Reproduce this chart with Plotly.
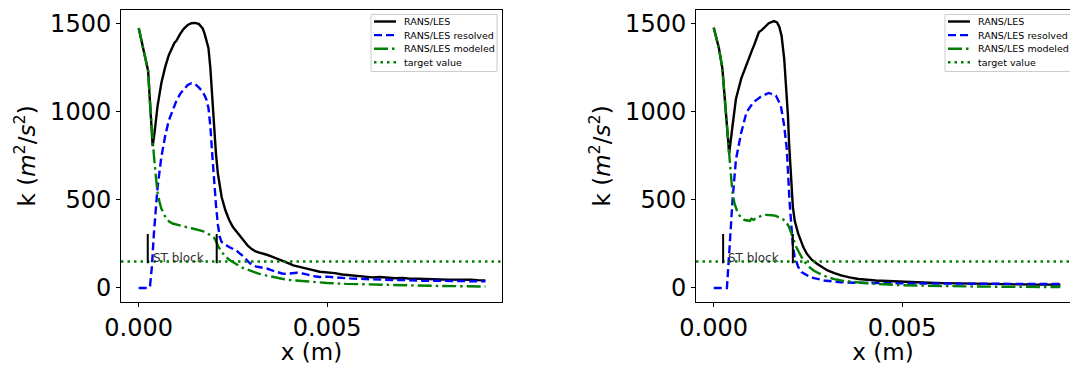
import plotly.graph_objects as go

# ---------------- data: left panel ----------------
L_x_total = [0, 0.0001, 0.0002, 0.00025, 0.0003, 0.00037, 0.00042, 0.0005, 0.0006, 0.0007,
             0.0008, 0.0009, 0.00095, 0.001, 0.0011, 0.0012, 0.0013, 0.0014, 0.0015, 0.0016,
             0.0017, 0.00175, 0.0018, 0.00185, 0.0019, 0.00195, 0.002, 0.00205, 0.0021, 0.00215,
             0.0022, 0.0023, 0.0024, 0.0025, 0.0026, 0.0027, 0.0028, 0.0029, 0.003, 0.0031,
             0.0032, 0.0033, 0.0034, 0.0035, 0.0036, 0.0037, 0.0038, 0.0039, 0.004, 0.0041,
             0.0042, 0.0043, 0.0044, 0.0046, 0.0048, 0.005, 0.0052, 0.0054, 0.0056, 0.0058,
             0.006, 0.0062, 0.0064, 0.0066, 0.0068, 0.007, 0.0072, 0.0074, 0.0076, 0.0078,
             0.008, 0.0082, 0.0084, 0.0086, 0.0088, 0.009, 0.0092]
L_k_total = [1473, 1380, 1290, 1230, 1050, 804, 880, 1030, 1160, 1250,
             1320, 1370, 1390, 1400, 1440, 1470, 1490, 1500, 1502, 1495,
             1470, 1440, 1400, 1360, 1250, 1080, 900, 760, 650, 570,
             515, 440, 385, 345, 318, 290, 262, 238, 220, 207,
             200, 195, 188, 180, 172, 165, 155, 148, 138, 128,
             122, 118, 112, 102, 92, 90, 84, 76, 71, 70,
             65, 60, 62, 58, 55, 57, 52, 53, 50, 51,
             48, 47, 48, 45, 46, 44, 43]

L_x_res = [0, 0.0001, 0.0002, 0.00025, 0.0003, 0.00035, 0.0004, 0.00045, 0.0005, 0.0006,
           0.0007, 0.0008, 0.0009, 0.001, 0.0011, 0.0012, 0.0013, 0.0014, 0.0015, 0.0016,
           0.0017, 0.00175, 0.0018, 0.00185, 0.0019, 0.00195, 0.002, 0.00205, 0.0021, 0.00215,
           0.0022, 0.00225, 0.0023, 0.0024, 0.0025, 0.0026, 0.0027, 0.0028, 0.0029, 0.003,
           0.0031, 0.0032, 0.0033, 0.0034, 0.0035, 0.0036, 0.0037, 0.0038, 0.0039, 0.004,
           0.0042, 0.0044, 0.0046, 0.0048, 0.005, 0.0052, 0.0054, 0.0056, 0.0058, 0.006,
           0.0062, 0.0064, 0.0066, 0.0068, 0.007, 0.0072, 0.0074, 0.0076, 0.0078, 0.008,
           0.0082, 0.0084, 0.0086, 0.0088, 0.009, 0.0092]
L_k_res = [0, 0, 0, 0, 10, 120, 300, 440, 570, 740,
           860, 950, 1010, 1060, 1100, 1125, 1150, 1160, 1155, 1135,
           1110, 1090, 1065, 1020, 920, 760, 600, 470, 360, 290,
           260, 250, 245, 232, 222, 210, 192, 175, 150, 130,
           122, 118, 115, 110, 102, 95, 88, 82, 80, 82,
           86, 80, 68, 62, 64, 60, 55, 54, 52, 50,
           47, 48, 45, 44, 45, 42, 42, 40, 41, 40,
           39, 40, 38, 38, 37, 37]

L_x_mod = [0, 0.0001, 0.0002, 0.00025, 0.0003, 0.00037, 0.0004, 0.00045, 0.0005, 0.00055,
           0.0006, 0.0007, 0.0008, 0.0009, 0.001, 0.0012, 0.0014, 0.0016, 0.0017, 0.0018,
           0.0019, 0.002, 0.00205, 0.0021, 0.0022, 0.0023, 0.0024, 0.0025, 0.0026, 0.0027,
           0.0028, 0.003, 0.0032, 0.0034, 0.0036, 0.0038, 0.004, 0.0045, 0.005, 0.0055,
           0.006, 0.0065, 0.007, 0.0075, 0.008, 0.0085, 0.009, 0.0092]
L_k_mod = [1473, 1380, 1290, 1230, 1050, 800, 760, 640, 540, 490,
           450, 405, 378, 365, 358, 348, 338, 328, 322, 312,
           300, 285, 265, 240, 205, 178, 160, 145, 132, 120,
           110, 95, 80, 70, 60, 52, 45, 35, 28, 23,
           20, 17, 15, 13, 11, 10, 9, 8]

# ---------------- data: right panel ----------------
R_x_total = [0, 0.00014, 0.00023, 0.00032, 0.00041, 0.0005, 0.00059, 0.00073, 0.00087, 0.001,
             0.00108, 0.00114, 0.0012, 0.00128, 0.00137, 0.00146, 0.0016, 0.00168, 0.00174, 0.0018,
             0.00187, 0.00192, 0.00197, 0.002, 0.00203, 0.00206, 0.0021, 0.00215, 0.0022, 0.00224,
             0.0023, 0.00238, 0.00247, 0.0026, 0.00274, 0.0029, 0.00302, 0.0032, 0.00338, 0.0036,
             0.00384, 0.0043, 0.0048, 0.00521, 0.0057, 0.00612, 0.0066, 0.00704, 0.0075, 0.00795,
             0.0085, 0.0092]
R_k_total = [1475, 1357, 1243, 976, 762, 919, 1071, 1186, 1271, 1338,
             1380, 1420, 1450, 1462, 1480, 1500, 1512, 1505, 1480, 1430,
             1300, 1150, 976, 820, 690, 560, 461, 380, 335, 309,
             275, 230, 194, 160, 137, 115, 99, 84, 71, 60,
             51, 42, 36, 32, 29, 27, 25, 23, 21, 20,
             19, 19]

R_x_res = [0, 0.0002, 0.00035, 0.00041, 0.0005, 0.00059, 0.00073, 0.00087, 0.00105, 0.00123,
           0.00146, 0.00165, 0.00178, 0.00187, 0.00194, 0.00201, 0.00206, 0.0021, 0.00215, 0.00224,
           0.00233, 0.00256, 0.00293, 0.00338, 0.0038, 0.0043, 0.005, 0.006, 0.007, 0.008,
           0.0092]
R_k_res = [0, 0, 0, 194, 499, 728, 880, 995, 1052, 1081,
           1105, 1090, 1033, 919, 785, 499, 330, 240, 175, 120,
           90, 61, 42, 32, 29, 27, 26, 25, 24, 23,
           22]

R_x_mod = [0, 0.00014, 0.00023, 0.00032, 0.00041, 0.00046, 0.0005, 0.00055, 0.00064, 0.00073,
           0.00082, 0.0009, 0.00096, 0.001, 0.00106, 0.00112, 0.00119, 0.00128, 0.00137, 0.00146,
           0.00155, 0.00165, 0.00174, 0.00183, 0.00192, 0.002, 0.00206, 0.00212, 0.00219, 0.00228,
           0.00238, 0.0025, 0.00265, 0.0028, 0.00302, 0.0032, 0.00338, 0.0038, 0.0043, 0.005,
           0.006, 0.007, 0.008, 0.0092]
R_k_mod = [1475, 1357, 1243, 976, 762, 633, 537, 480, 423, 398,
           385, 382, 380, 392, 386, 396, 404, 410, 414, 414,
           412, 408, 400, 390, 375, 345, 309, 275, 232, 195,
           156, 125, 99, 82, 61, 50, 42, 32, 23, 15,
           10, 8, 6, 5]

TARGET = 150
ST_left = [0.00024, 0.00207]
ST_right = [0.00025, 0.0021]
ST_bar_k = [140, 305]
ST_text_k = 172

X_RANGE_L = [-0.00047, 0.00964]
X_RANGE_R = [-0.00047, 0.009455]
Y_RANGE = [-78, 1575]
XT_VALS = [0, 0.005]
XT_TEXT = ["0.000", "0.005"]
YT_VALS = [0, 500, 1000, 1500]

SERIES_NAMES = ["RANS/LES", "RANS/LES resolved", "RANS/LES modeled", "target value"]
SERIES_COLORS = ["#000000", "#0000ff", "#008000", "#008000"]
SERIES_DASH = ["solid", "8px,4px", "14px,4px,2.5px,4px", "2.5px,4px"]
LW = 2.4

FONT = "DejaVu Sans"
W, H = 1070, 365

fig = go.Figure()


def add_panel(xa, ya, xt, kt, xr, kr, xm, km, st, xrange_):
    series = [(xt, kt), (xr, kr), (xm, km), (xrange_, [TARGET, TARGET])]
    for (xs, ys), name, col, dash in zip(series, SERIES_NAMES, SERIES_COLORS, SERIES_DASH):
        fig.add_trace(go.Scatter(x=xs, y=ys, mode="lines", name=name, xaxis=xa, yaxis=ya,
                                 showlegend=False, line=dict(color=col, width=LW, dash=dash)))
    for xs in st:
        fig.add_trace(go.Scatter(x=[xs, xs], y=ST_bar_k, mode="lines", showlegend=False,
                                 xaxis=xa, yaxis=ya, hoverinfo="skip",
                                 line=dict(color="#000000", width=2)))
    fig.add_annotation(x=st[0], y=ST_text_k, xref=xa, yref=ya, text="ST block", showarrow=False,
                       xanchor="left", yanchor="middle", xshift=3,
                       font=dict(family=FONT, size=12, color="#333333"))


def add_legend_box(left_px, top_px):
    # matplotlib-style compact legend: box, line samples, labels
    width_px, height_px, row0, row_gap = 126, 57, 7.0, 13.6
    fig.add_shape(type="rect", xref="paper", yref="paper",
                  x0=left_px / W, x1=(left_px + width_px) / W,
                  y0=1 - (top_px + height_px) / H, y1=1 - top_px / H,
                  fillcolor="rgba(255,255,255,0.8)", line=dict(color="#cccccc", width=1),
                  layer="above")
    for i, (name, col, dash) in enumerate(zip(SERIES_NAMES, SERIES_COLORS, SERIES_DASH)):
        yc = 1 - (top_px + row0 + i * row_gap) / H
        fig.add_shape(type="line", xref="paper", yref="paper",
                      x0=(left_px + 3) / W, x1=(left_px + 25) / W, y0=yc, y1=yc,
                      line=dict(color=col, width=LW, dash=dash), layer="above")
        fig.add_annotation(x=(left_px + 31) / W, y=yc, xref="paper", yref="paper", text=name,
                           showarrow=False, xanchor="left", yanchor="middle",
                           font=dict(family=FONT, size=9.5, color="#000000"))


add_panel("x", "y", L_x_total, L_k_total, L_x_res, L_k_res, L_x_mod, L_k_mod,
          ST_left, X_RANGE_L)
add_panel("x2", "y2", R_x_total, R_k_total, R_x_res, R_k_res, R_x_mod, R_k_mod,
          ST_right, X_RANGE_R)
add_legend_box(371, 14.5)
add_legend_box(945, 14.5)

ydom = [(H - 301.7) / H, (H - 10) / H]
axis_common = dict(showline=True, linecolor="#000000", linewidth=1, ticks="outside", ticklen=4,
                   tickwidth=1, tickcolor="#000000", showgrid=False, zeroline=False,
                   tickfont=dict(family=FONT, size=24, color="#000000"))
ytitle = "k (<i>m</i><sup>2</sup>/<i>s</i><sup>2</sup>)"

fig.update_layout(
    width=W, height=H,
    margin=dict(l=0, r=0, t=0, b=0, autoexpand=False),
    paper_bgcolor="white", plot_bgcolor="white",
    font=dict(family=FONT, color="#000000"),
    showlegend=False,
    xaxis=dict(domain=[121 / W, 502 / W], range=X_RANGE_L, anchor="y", mirror=True,
               tickvals=XT_VALS, ticktext=XT_TEXT,
               title=dict(text="x (m)", font=dict(family=FONT, size=23), standoff=3),
               **axis_common),
    yaxis=dict(domain=ydom, range=Y_RANGE, anchor="x", mirror=True, tickvals=YT_VALS,
               title=dict(text=ytitle, font=dict(family=FONT, size=23), standoff=8),
               **axis_common),
    xaxis2=dict(domain=[696 / W, 1.0], range=X_RANGE_R, anchor="y2", mirror=True,
                tickvals=XT_VALS, ticktext=XT_TEXT,
                title=dict(text="x (m)", font=dict(family=FONT, size=23), standoff=3),
                **axis_common),
    yaxis2=dict(domain=ydom, range=Y_RANGE, anchor="x2", mirror=False, tickvals=YT_VALS,
                title=dict(text=ytitle, font=dict(family=FONT, size=23), standoff=8),
                **axis_common),
)

fig.write_html("out.html")
